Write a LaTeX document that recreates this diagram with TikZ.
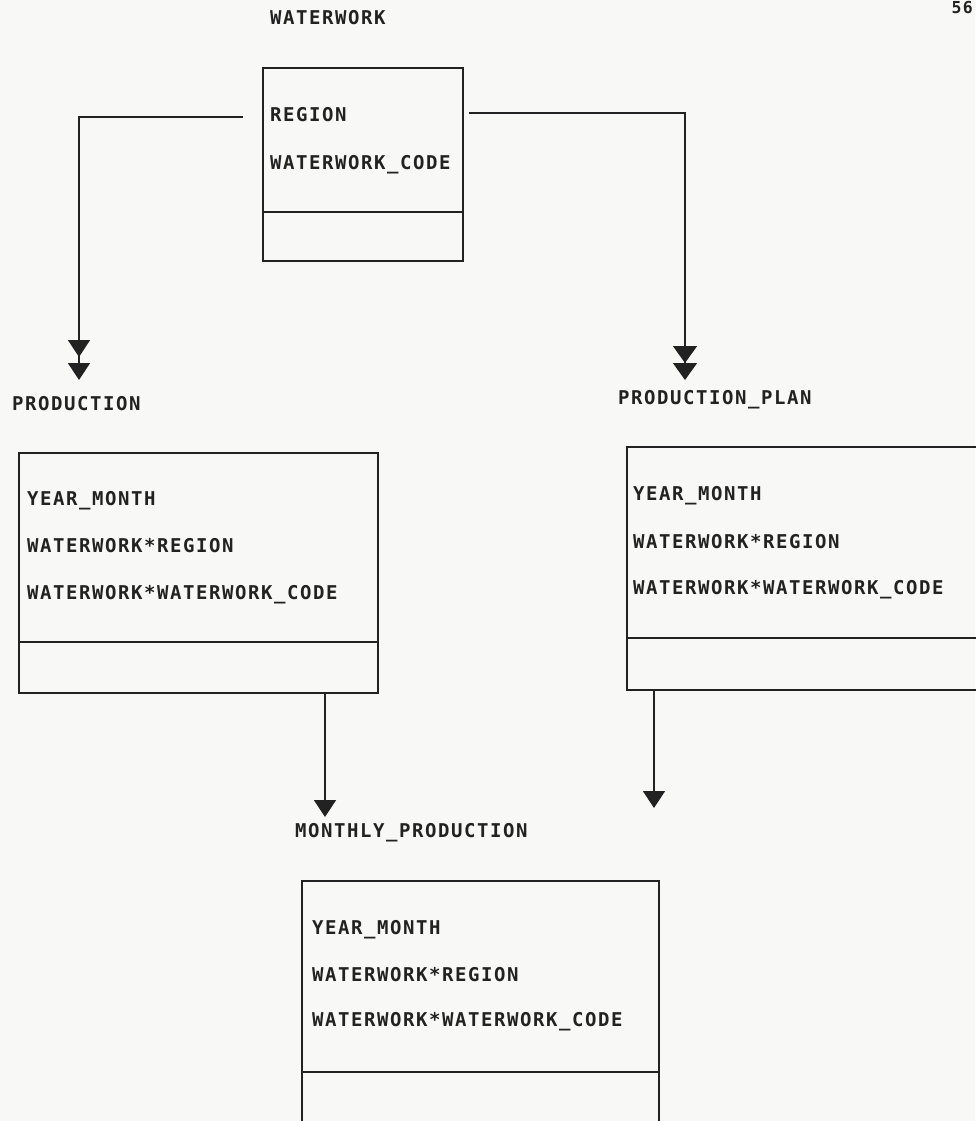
\documentclass[tikz,border=0pt]{standalone}
\usepackage{fontspec}
\usetikzlibrary{arrows.meta,calc}
% condensed printer-like monospaced lettering
\newfontfamily\prt{DejaVu Sans Mono}[LetterSpace=8.2]
\definecolor{ink}{HTML}{222222}
\definecolor{paper}{HTML}{F8F8F6}
\tikzset{
  ebox/.style={draw=ink, line width=1.8pt, rectangle, inner sep=0pt, anchor=north west},
  divider/.style={draw=ink, line width=1.8pt},
  lbl/.style={text=ink, inner sep=0pt, anchor=base west,
    font=\prt\bfseries\fontsize{19}{21}\selectfont},
  pagenum/.style={text=ink, inner sep=0pt, anchor=base east,
    font=\prt\bfseries\fontsize{16.5}{18}\selectfont},
  link/.style={draw=ink, line width=1.6pt},
  tip/.style={-{Triangle[width=22pt,length=17pt]}},
  dtip/.style={-{Triangle[width=22pt,length=17pt,sep=6pt]Triangle[width=22pt,length=17pt]}},
  dtipc/.style={-{Triangle[width=24pt,length=17pt]Triangle[width=24pt,length=17pt]}}
}
\begin{document}
\begin{tikzpicture}[x=1pt,y=-1pt]
  \fill[paper] (0,0) rectangle (975,1121);
  \useasboundingbox (0,0) rectangle (975,1121);

  % page number in the top right corner
  \node[pagenum] (page) at (973,13.5) {56};

  % WATERWORK entity
  \node[lbl] (wwt) at (270,24.5) {WATERWORK};
  \node[ebox, minimum width=200pt, minimum height=193pt] (ww) at (262,67) {};
  \draw[divider] ($(ww.north west)+(0,145)$) -- ($(ww.north east)+(0,145)$);
  \node[lbl] (ww1) at (270,121.5) {REGION};
  \node[lbl] (ww2) at (270,169.5) {WATERWORK\_CODE};

  % PRODUCTION entity
  \node[lbl] (prt) at (12,410.5) {PRODUCTION};
  \node[ebox, minimum width=359pt, minimum height=240pt] (prod) at (18,452) {};
  \draw[divider] ($(prod.north west)+(0,190)$) -- ($(prod.north east)+(0,190)$);
  \node[lbl] (pr1) at (27,505.5) {YEAR\_MONTH};
  \node[lbl] (pr2) at (27,552.5) {WATERWORK*REGION};
  \node[lbl] (pr3) at (27,599.5) {WATERWORK*WATERWORK\_CODE};

  % PRODUCTION_PLAN entity
  \node[lbl] (plt) at (618,404.5) {PRODUCTION\_PLAN};
  \node[ebox, minimum width=400pt, minimum height=243pt] (plan) at (626,446) {};
  \draw[divider] ($(plan.north west)+(0,192)$) -- ($(plan.north east)+(0,192)$);
  \node[lbl] (pl1) at (633,500.5) {YEAR\_MONTH};
  \node[lbl] (pl2) at (633,548.5) {WATERWORK*REGION};
  \node[lbl] (pl3) at (633,594.5) {WATERWORK*WATERWORK\_CODE};

  % MONTHLY_PRODUCTION entity
  \node[lbl] (mot) at (295,837.5) {MONTHLY\_PRODUCTION};
  \node[ebox, minimum width=357pt, minimum height=300pt] (mon) at (301,880) {};
  \draw[divider] ($(mon.north west)+(0,192)$) -- ($(mon.north east)+(0,192)$);
  \node[lbl] (mo1) at (312,934.5) {YEAR\_MONTH};
  \node[lbl] (mo2) at (312,981.5) {WATERWORK*REGION};
  \node[lbl] (mo3) at (312,1026.5) {WATERWORK*WATERWORK\_CODE};

  % connector end points
  \coordinate (wwL) at ($(ww.north west)+(-19,50)$);
  \coordinate (wwR) at ($(ww.north east)+(5,46)$);
  \coordinate (prodIn) at (79,380);
  \coordinate (planIn) at (685,380);
  \coordinate (prodOut) at ($(prod.south west)+(307,0)$);
  \coordinate (planOut) at ($(plan.south west)+(28,0)$);
  \coordinate (monIn) at (325,817);
  \coordinate (planEnd) at (654,808);

  % connectors
  \draw[link, dtip] (wwL) -| (prodIn);
  \draw[link, dtipc] (wwR) -| (planIn);
  \draw[link, tip] (prodOut) -- (monIn);
  \draw[link, tip] (planOut) -- (planEnd);
\end{tikzpicture}
\end{document}
